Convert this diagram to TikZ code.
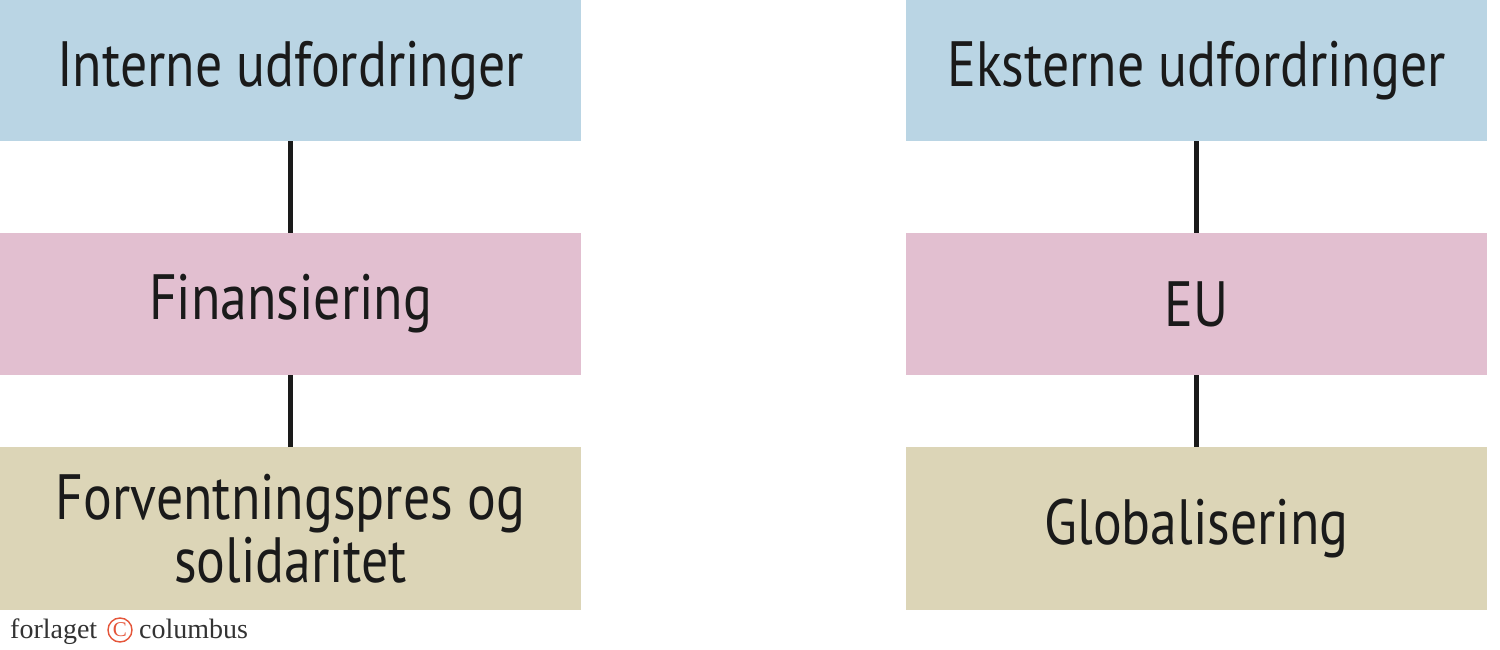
\documentclass[tikz,border=0pt]{standalone}
\usepackage{fontspec}
\newfontfamily\boxfont[FakeStretch=0.84]{PT Sans}
\newfontfamily\logofont{Liberation Serif}
\definecolor{cblue}{HTML}{BAD5E4}
\definecolor{cpink}{HTML}{E2BFD0}
\definecolor{ctan}{HTML}{DCD5B7}
\definecolor{ctext}{HTML}{1A1A1A}
\definecolor{clogo}{HTML}{333333}
\definecolor{cred}{HTML}{E5553A}
\begin{document}
\begin{tikzpicture}[x=1pt,y=-1pt,
  box/.style={rectangle, inner sep=0pt, minimum width=581pt, align=center,
    text=ctext, font=\boxfont\fontsize{64}{63}\selectfont},
  conn/.style={draw=ctext, line width=5pt}]
\useasboundingbox (0,0) rectangle (1500,650);
\fill[white] (0,0) rectangle (1500,650);
% left column
\node[box, fill=cblue, minimum height=141pt] (b1) at (290.5,70.5) {Interne udfordringer};
\node[box, fill=cpink, minimum height=142pt] (p1) at (290.5,304) {Finansiering};
\node[box, fill=ctan, minimum height=163pt] (t1) at (290.5,528.5) {Forventningspres og\\solidaritet};
% right column
\node[box, fill=cblue, minimum height=141pt] (b2) at (1196.5,70.5) {Eksterne udfordringer};
\node[box, fill=cpink, minimum height=142pt] (p2) at (1196.5,304) {EU};
\node[box, fill=ctan, minimum height=163pt] (t2) at (1196.5,528.5) {Globalisering};
% connectors
\draw[conn] (b1.south) -- (p1.north);
\draw[conn] (p1.south) -- (t1.north);
\draw[conn] (b2.south) -- (p2.north);
\draw[conn] (p2.south) -- (t2.north);
% logo
\node[anchor=base west, inner sep=0pt, text=clogo, font=\logofont\fontsize{28}{28}\selectfont] (lg1) at (10,638) {forlaget};
\node[circle, draw=cred, line width=1.4pt, inner sep=0pt, minimum size=24pt, text=cred,
  font=\logofont\fontsize{21}{21}\selectfont] (lgc) at (120,630) {C};
\node[anchor=base west, inner sep=0pt, text=clogo, font=\logofont\fontsize{28}{28}\selectfont] (lg2) at (139,638) {columbus};
\end{tikzpicture}
\end{document}
